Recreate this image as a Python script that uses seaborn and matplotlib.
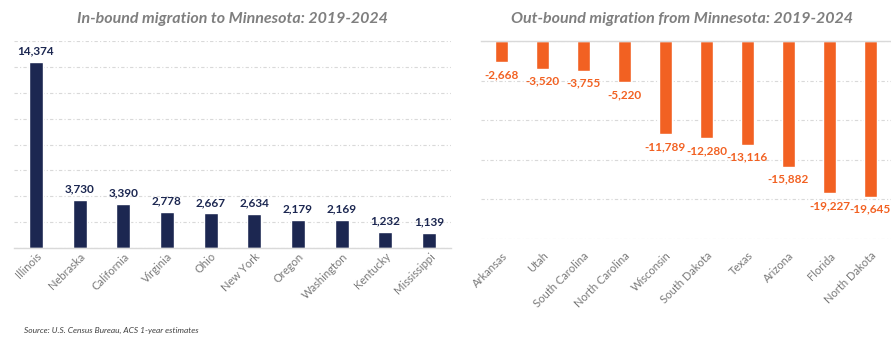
import matplotlib
matplotlib.use("Agg")
import matplotlib.pyplot as plt
import seaborn as sns
import pandas as pd

# In-bound migration (people moving to Minnesota)
in_states = ["Illinois", "Nebraska", "California", "Virginia", "Ohio",
             "New York", "Oregon", "Washington", "Kentucky", "Mississippi"]
in_values = [14374, 3730, 3390, 2778, 2667, 2634, 2179, 2169, 1232, 1139]

# Out-bound migration (people leaving Minnesota)
out_states = ["Arkansas", "Utah", "South Carolina", "North Carolina", "Wisconsin",
              "South Dakota", "Texas", "Arizona", "Florida", "North Dakota"]
out_values = [-2668, -3520, -3755, -5220, -11789, -12280, -13116, -15882, -19227, -19645]

left_title = "In-bound migration to Minnesota: 2019-2024"
right_title = "Out-bound migration from Minnesota: 2019-2024"
source_note = "Source: U.S. Census Bureau, ACS 1-year estimates"

NAVY = "#1c2751"
ORANGE = "#f26122"
GRID = "#d9d9d9"
TITLE_GRAY = "#7f7f7f"
TICK_GRAY = "#7a7a7a"

sns.set_theme(style="white")
plt.rcParams["font.family"] = ["Lato", "DejaVu Sans"]

fig = plt.figure(figsize=(8.91, 3.37), dpi=100)
ax_in = fig.add_axes([0.0157, 0.2641, 0.4905, 0.6142])
ax_out = fig.add_axes([0.5398, 0.2908, 0.4602, 0.5875])

df_in = pd.DataFrame({"state": in_states, "value": in_values})
df_out = pd.DataFrame({"state": out_states, "value": out_values})

sns.barplot(data=df_in, x="state", y="value", color=NAVY, width=0.32,
            saturation=1, ax=ax_in)
sns.barplot(data=df_out, x="state", y="value", color=ORANGE, width=0.32,
            saturation=1, ax=ax_out)

grid_style = (0, (3, 2, 1, 2))

# Left panel axes
ax_in.set_ylim(0, 16000)
ax_in.set_yticks(range(0, 16001, 2000))
ax_in.set_xlim(-0.5, len(in_states) - 0.5)
ax_in.bar_label(ax_in.containers[0], labels=[f"{v:,}" for v in in_values],
                padding=4, color=NAVY, fontsize=8.5, fontweight="bold")

# Right panel axes
ax_out.set_ylim(-25000, 0)
ax_out.set_yticks(range(-25000, 1, 5000))
ax_out.set_xlim(-0.5, len(out_states) - 0.5)
ax_out.bar_label(ax_out.containers[0], labels=[f"{v:,}" for v in out_values],
                 padding=5, color=ORANGE, fontsize=8.5, fontweight="bold")

for ax in (ax_in, ax_out):
    ax.set_xlabel("")
    ax.set_ylabel("")
    ax.yaxis.grid(True, linestyle=grid_style, color=GRID, linewidth=0.8)
    ax.set_axisbelow(True)
    ax.tick_params(axis="y", left=False, labelleft=False)
    ax.tick_params(axis="x", length=0, pad=2, labelsize=8, labelcolor=TICK_GRAY)
    for lab in ax.get_xticklabels():
        lab.set_rotation(45)
        lab.set_ha("right")
        lab.set_rotation_mode("anchor")
    for side in ("left", "right", "top", "bottom"):
        ax.spines[side].set_visible(False)

ax_in.spines["bottom"].set_visible(True)
ax_in.spines["bottom"].set_color(GRID)
ax_in.spines["bottom"].set_linewidth(1.0)
ax_out.spines["top"].set_visible(True)
ax_out.spines["top"].set_color(GRID)
ax_out.spines["top"].set_linewidth(1.0)
ax_out.tick_params(axis="x", pad=8)

fig.text(232 / 891, 1 - 19 / 337, left_title, ha="center", va="center",
         fontsize=11.5, fontweight="bold", fontstyle="italic", color=TITLE_GRAY)
fig.text(682 / 891, 1 - 19 / 337, right_title, ha="center", va="center",
         fontsize=11.5, fontweight="bold", fontstyle="italic", color=TITLE_GRAY)
fig.text(24 / 891, 1 - 334 / 337, source_note, ha="left", va="bottom",
         fontsize=6, fontstyle="italic", color="#404040")

fig.savefig("out.png", dpi=100)
